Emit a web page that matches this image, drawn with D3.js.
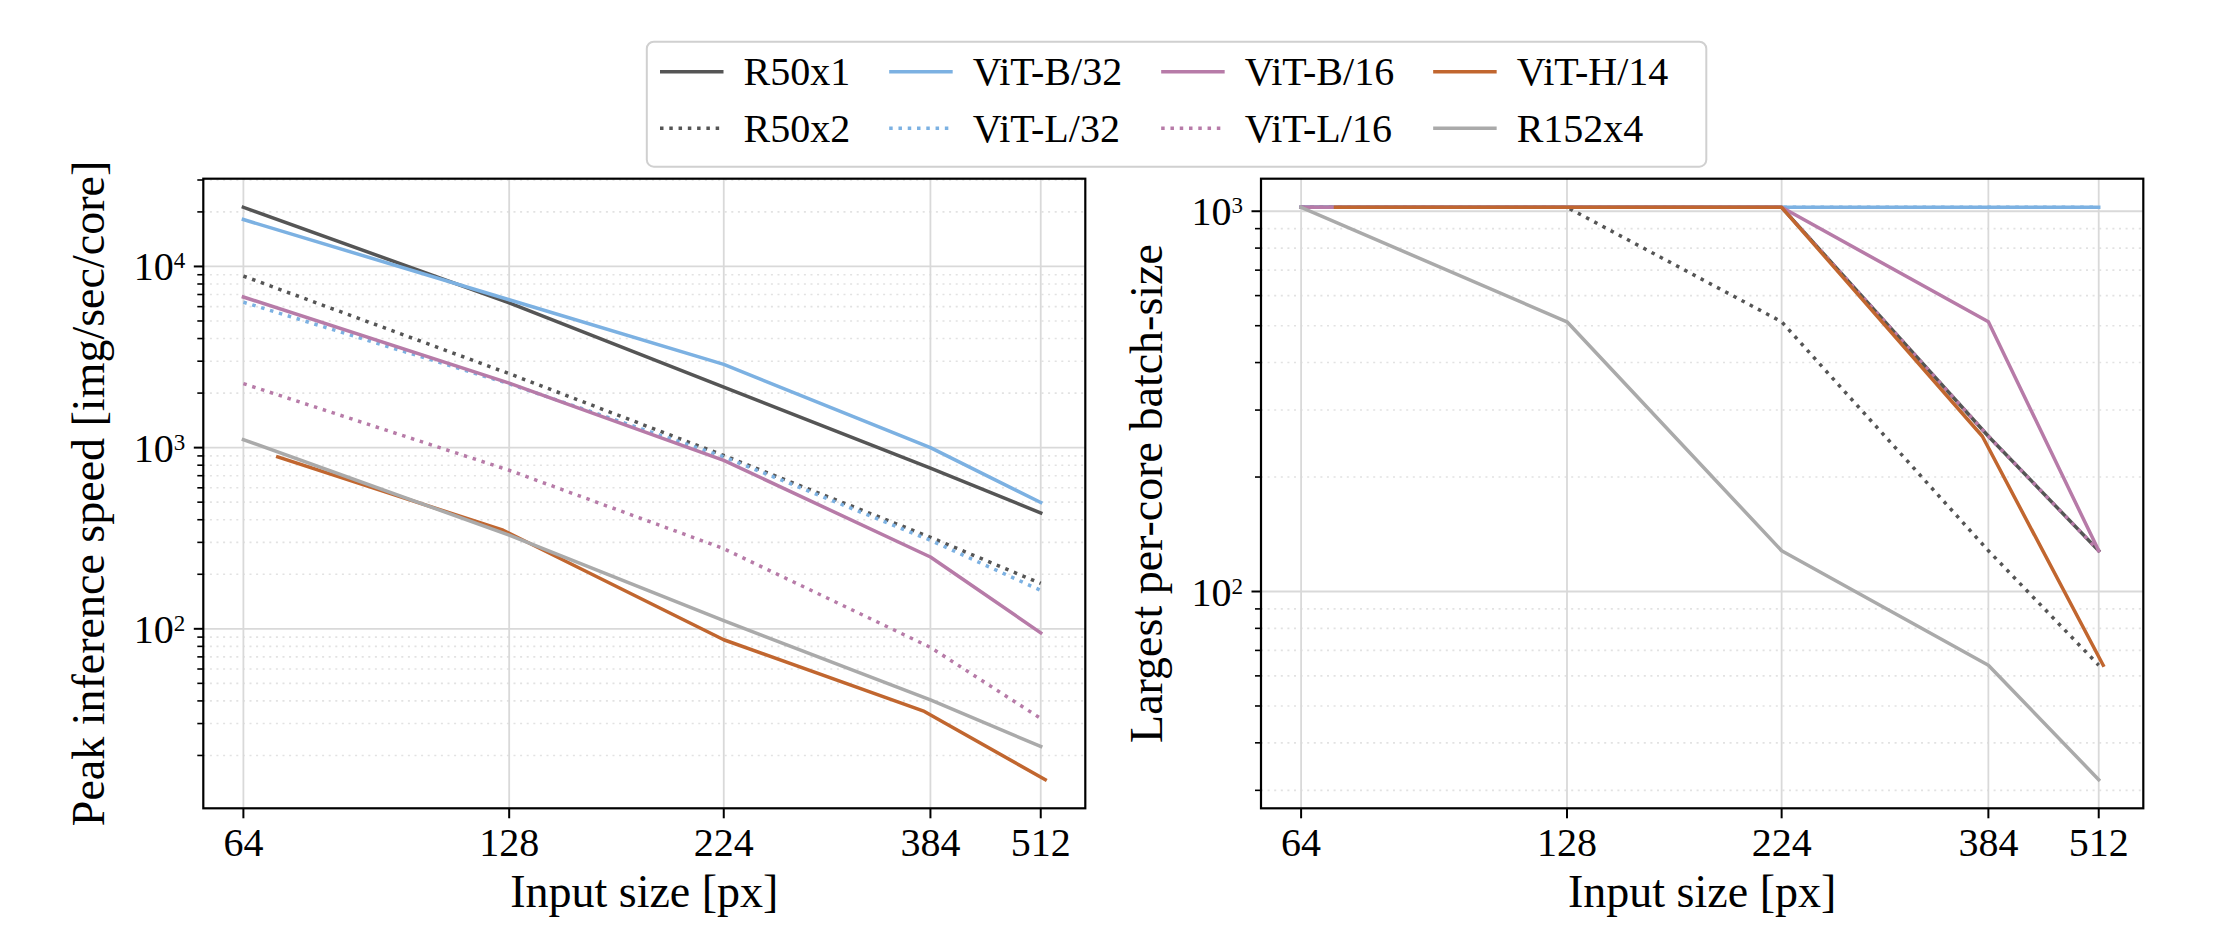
<!DOCTYPE html>
<html><head><meta charset="utf-8">
<script src="https://cdn.jsdelivr.net/npm/d3@7/dist/d3.min.js"></script>
<style>html,body{margin:0;padding:0;background:#fff;} svg{display:block;}</style>
</head><body>
<svg id="chart" width="2214" height="952"></svg>
<script>
// ---------------- DATA ----------------
const inputSizes    = [64, 128, 224, 384, 512];
const inputSizesH14 = [70, 126, 224, 378, 518];
const xTickValues = [64, 128, 224, 384, 512];
const xTickLabels = ["64", "128", "224", "384", "512"];
const leftYTickExponents  = [2, 3, 4];
const rightYTickExponents = [2, 3];

const seriesNames = ["R50x1", "R50x2", "ViT-B/32", "ViT-L/32", "ViT-B/16", "ViT-L/16", "ViT-H/14", "R152x4"];

// Peak inference speed [img/sec/core]
const speedR50x1  = [21200, 6300, 2160, 770, 436];
const speedR50x2  = [8850, 2560, 905, 320, 178];
const speedViTB32 = [18150, 6550, 2880, 1000, 498];
const speedViTL32 = [6350, 2250, 890, 308, 163];
const speedViTB16 = [6780, 2270, 851, 249, 95];
const speedViTL16 = [2256, 750, 277, 79, 32];
const speedViTH14 = [889, 350, 87, 35, 14.7];
const speedR152x4 = [1107, 329, 111, 40.5, 22.4];

// Largest per-core batch-size
const batchR50x1  = [1024, 1024, 1024, 256, 128];
const batchR50x2  = [1024, 1024, 512, 128, 64];
const batchViTB32 = [1024, 1024, 1024, 1024, 1024];
const batchViTL32 = [1024, 1024, 1024, 1024, 1024];
const batchViTB16 = [1024, 1024, 1024, 512, 128];
const batchViTL16 = [1024, 1024, 1024, 256, 128];
const batchViTH14 = [1024, 1024, 1024, 256, 64];
const batchR152x4 = [1024, 512, 128, 64, 32];

// ---------------- STYLES ----------------
const styles = [
  {color: "#555555", dotted: false},
  {color: "#555555", dotted: true},
  {color: "#7cb1e2", dotted: false},
  {color: "#7cb1e2", dotted: true},
  {color: "#b77ba8", dotted: false},
  {color: "#b77ba8", dotted: true},
  {color: "#c1662f", dotted: false},
  {color: "#aaaaaa", dotted: false}
];
const xsFor = [inputSizes, inputSizes, inputSizes, inputSizes, inputSizes, inputSizes, inputSizesH14, inputSizes];
const leftSeries  = [speedR50x1, speedR50x2, speedViTB32, speedViTL32, speedViTB16, speedViTL16, speedViTH14, speedR152x4];
const rightSeries = [batchR50x1, batchR50x2, batchViTB32, batchViTL32, batchViTB16, batchViTL16, batchViTH14, batchR152x4];

const LW = 3.5;
const FONT = "'Liberation Serif', 'Times New Roman', Times, serif";
const svg = d3.select("#chart");

function drawPanel(box, series, yExps, ylabel) {
  const g = svg.append("g");
  // x domain with 5% log margins
  const allX = xsFor.flat();
  const lx0 = Math.log2(d3.min(allX)), lx1 = Math.log2(d3.max(allX));
  const mx = 0.05 * (lx1 - lx0);
  const x = d3.scaleLog().base(2).domain([Math.pow(2, lx0 - mx), Math.pow(2, lx1 + mx)]).range([box.x0, box.x1]);
  const allY = series.flat();
  const ly0 = Math.log10(d3.min(allY)), ly1 = Math.log10(d3.max(allY));
  const my = 0.05 * (ly1 - ly0);
  const y = d3.scaleLog().domain([Math.pow(10, ly0 - my), Math.pow(10, ly1 + my)]).range([box.y1, box.y0]);

  // minor and major y ticks
  const [d0, d1] = y.domain();
  const majors = [], minors = [];
  for (let e = Math.floor(Math.log10(d0)); e <= Math.ceil(Math.log10(d1)); e++) {
    for (let k = 1; k <= 9; k++) {
      const v = k * Math.pow(10, e);
      if (v >= d0 && v <= d1) (k === 1 ? majors : minors).push(v);
    }
  }

  // grid
  g.append("g").selectAll("line").data(minors).join("line")
    .attr("x1", box.x0).attr("x2", box.x1)
    .attr("y1", d => y(d)).attr("y2", d => y(d))
    .attr("stroke", "#e2e2e2").attr("stroke-width", 1.6).attr("stroke-dasharray", "2,4.6");
  g.append("g").selectAll("line").data(majors).join("line")
    .attr("x1", box.x0).attr("x2", box.x1)
    .attr("y1", d => y(d)).attr("y2", d => y(d))
    .attr("stroke", "#d9d9d9").attr("stroke-width", 1.8);
  g.append("g").selectAll("line").data(xTickValues).join("line")
    .attr("x1", d => x(d)).attr("x2", d => x(d))
    .attr("y1", box.y0).attr("y2", box.y1)
    .attr("stroke", "#d9d9d9").attr("stroke-width", 1.8);

  // lines
  const line = d3.line().x(d => x(d[0])).y(d => y(d[1]));
  series.forEach((vals, i) => {
    const pts = vals.map((v, j) => [xsFor[i][j], v]);
    const st = styles[i];
    g.append("path").datum(pts).attr("d", line)
      .attr("fill", "none").attr("stroke", st.color).attr("stroke-width", LW)
      .attr("stroke-linejoin", "round")
      .attr("stroke-linecap", st.dotted ? "butt" : "square")
      .attr("stroke-dasharray", st.dotted ? `${LW},${LW * 1.65}` : null);
  });

  // spines
  g.append("rect").attr("x", box.x0).attr("y", box.y0)
    .attr("width", box.x1 - box.x0).attr("height", box.y1 - box.y0)
    .attr("fill", "none").attr("stroke", "#000").attr("stroke-width", 2.2);

  // x ticks
  g.append("g").selectAll("line").data(xTickValues).join("line")
    .attr("x1", d => x(d)).attr("x2", d => x(d))
    .attr("y1", box.y1).attr("y2", box.y1 + 10)
    .attr("stroke", "#000").attr("stroke-width", 2);
  g.append("g").selectAll("text").data(xTickValues).join("text")
    .attr("x", d => x(d)).attr("y", box.y1 + 48)
    .attr("text-anchor", "middle").attr("font-family", FONT).attr("font-size", 40)
    .text((d, i) => xTickLabels[i]);

  // y ticks
  g.append("g").selectAll("line").data(minors).join("line")
    .attr("x1", box.x0 - 6).attr("x2", box.x0)
    .attr("y1", d => y(d)).attr("y2", d => y(d))
    .attr("stroke", "#000").attr("stroke-width", 1.6);
  g.append("g").selectAll("line").data(majors).join("line")
    .attr("x1", box.x0 - 9.5).attr("x2", box.x0)
    .attr("y1", d => y(d)).attr("y2", d => y(d))
    .attr("stroke", "#000").attr("stroke-width", 2);
  yExps.forEach(e => {
    const v = Math.pow(10, e);
    const t = g.append("text")
      .attr("x", box.x0 - 18).attr("y", y(v) + 14)
      .attr("text-anchor", "end").attr("font-family", FONT).attr("font-size", 40);
    t.append("tspan").text("10");
    t.append("tspan").attr("font-size", 23).attr("dy", -12).text(String(e));
  });

  // axis labels
  g.append("text")
    .attr("x", (box.x0 + box.x1) / 2).attr("y", 907)
    .attr("text-anchor", "middle").attr("font-family", FONT).attr("font-size", 46)
    .text("Input size [px]");
  g.append("text")
    .attr("transform", `translate(${box.x0 - 99},${(box.y0 + box.y1) / 2}) rotate(-90)`)
    .attr("text-anchor", "middle").attr("font-family", FONT).attr("font-size", 46)
    .text(ylabel);
}

drawPanel({x0: 203.3, x1: 1085.3, y0: 178.7, y1: 808.3}, leftSeries, leftYTickExponents, "Peak inference speed [img/sec/core]");
drawPanel({x0: 1261, x1: 2143.3, y0: 178.7, y1: 808.3}, rightSeries, rightYTickExponents, "Largest per-core batch-size");

// ---------------- LEGEND ----------------
const leg = svg.append("g");
leg.append("rect").attr("x", 646.8).attr("y", 41.7).attr("width", 1059.5).attr("height", 125)
  .attr("rx", 7).attr("fill", "#fff").attr("stroke", "#d0d0d0").attr("stroke-width", 2);
const rowY = [71.7, 128.3];
let colX = 660;
for (let c = 0; c < 4; c++) {
  let maxW = 0;
  for (let r = 0; r < 2; r++) {
    const i = c * 2 + r;
    const st = styles[i];
    leg.append("line").attr("x1", colX).attr("x2", colX + 63.5)
      .attr("y1", rowY[r]).attr("y2", rowY[r])
      .attr("stroke", st.color).attr("stroke-width", LW)
      .attr("stroke-dasharray", st.dotted ? `${LW},${LW * 1.65}` : null);
    const t = leg.append("text").attr("x", colX + 83.5).attr("y", rowY[r] + 13.5)
      .attr("font-family", FONT).attr("font-size", 40).text(seriesNames[i]);
    maxW = Math.max(maxW, t.node().getComputedTextLength());
  }
  colX += 83.5 + maxW + 39;
}
</script>
</body></html>
